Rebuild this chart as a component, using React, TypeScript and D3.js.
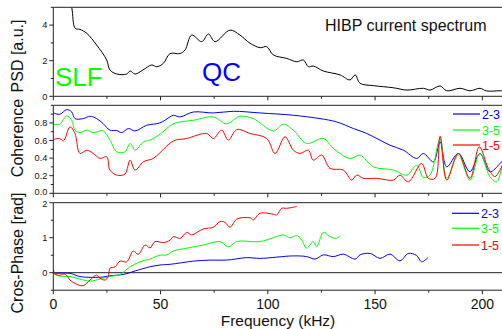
import React from "react";
import * as d3 from "d3";

// ---------- data ----------
const psdFreq = [0, 3, 6, 8.6, 10.2, 12.4, 15.6, 20.2, 24.9, 26.4, 29.6, 34.2, 35.8, 38.1, 41.8, 45.9, 48.2, 51.3, 54.4, 59, 61.4, 64.5, 69.2, 72.3, 75.4, 82.4, 87, 91.7, 96.4, 99.5, 102.6, 108.8, 113.5, 116.6, 118.9, 121.2, 125.9, 133.7, 138.3, 140.7, 143, 149.2, 158.5, 164.8, 172.5, 175.6, 180.3, 183.4, 189.6, 194.3, 198.9, 202, 208.3, 212];
const psdValue = [11, 8.5, 6.5, 5.0, 3.82, 3.76, 3.54, 2.88, 2.04, 1.48, 1.25, 1.25, 1.42, 1.25, 1.48, 1.76, 1.66, 1.85, 2.4, 2.4, 2.6, 3.44, 3.07, 3.5, 3.07, 3.72, 3.44, 2.98, 2.73, 2.79, 2.32, 2.13, 1.94, 2.04, 1.66, 1.7, 1.42, 1.2, 0.92, 1.2, 0.73, 0.6, 0.48, 0.35, 0.45, 0.35, 0.58, 0.31, 0.45, 0.31, 0.45, 0.3, 0.31, 0.3];

const cohBlueF = [0, 3.1, 6.2, 8.6, 10.1, 14, 17.1, 20.2, 23.3, 26.4, 29.6, 31.9, 35, 38.1, 43.5, 49.7, 54.4, 56, 59.1, 65.3, 74.6, 83.9, 96.4, 111.9, 124.3, 132.1, 139.9, 146.1, 152.3, 156.9, 163.2, 169.4, 172.5, 177.2, 180.3, 183.4, 188.8, 194.2, 198.9, 203.5, 208.3, 212];
const cohBlueV = [0.913, 0.898, 0.951, 0.924, 0.849, 0.849, 0.875, 0.849, 0.79, 0.717, 0.713, 0.69, 0.736, 0.709, 0.773, 0.8, 0.868, 0.887, 0.868, 0.924, 0.913, 0.932, 0.913, 0.887, 0.849, 0.811, 0.736, 0.68, 0.604, 0.547, 0.49, 0.396, 0.453, 0.358, 0.584, 0.301, 0.453, 0.245, 0.453, 0.245, 0.34, 0.45];

const cohGreenF = [0, 3, 6.2, 8.6, 10.1, 12.4, 15.6, 18.6, 23.3, 26.4, 29.6, 33.4, 35.8, 38.1, 42, 45.1, 49.7, 56, 65.3, 74.6, 80.8, 87, 93.2, 102.6, 107.2, 111.9, 118.1, 125.9, 130.5, 138.3, 143, 149.2, 158.5, 164.8, 169.4, 172.5, 175.6, 180.3, 183.4, 188.8, 194.2, 198.9, 203.5, 206.7, 209.7];
const cohGreenV = [0.785, 0.785, 0.879, 0.83, 0.717, 0.69, 0.717, 0.69, 0.709, 0.604, 0.471, 0.471, 0.566, 0.49, 0.584, 0.604, 0.67, 0.79, 0.83, 0.868, 0.79, 0.875, 0.849, 0.709, 0.785, 0.717, 0.566, 0.623, 0.51, 0.396, 0.434, 0.301, 0.264, 0.207, 0.32, 0.18, 0.207, 0.623, 0.17, 0.434, 0.15, 0.453, 0.19, 0.13, 0.377];

const cohRedF = [0, 3, 4.7, 7.8, 10.1, 12.4, 15.6, 18.6, 21.8, 24.9, 26.4, 29.6, 33.4, 35.8, 38.1, 42, 46.6, 49.7, 56, 62.2, 71.5, 74.6, 78.5, 81.6, 85.5, 91.7, 99.5, 103.4, 108, 111.9, 115, 118.9, 121.2, 125.1, 129, 135.2, 139.1, 141.4, 144.5, 150.8, 158.5, 161.6, 165.5, 171.7, 174.8, 178, 180.3, 183.4, 188.8, 194.2, 198.6, 202.8, 205.9, 209.7];
const cohRedV = [0.611, 0.623, 0.596, 0.755, 0.68, 0.453, 0.49, 0.453, 0.396, 0.415, 0.264, 0.207, 0.219, 0.377, 0.264, 0.358, 0.396, 0.46, 0.596, 0.623, 0.68, 0.623, 0.717, 0.604, 0.725, 0.68, 0.623, 0.453, 0.642, 0.49, 0.453, 0.49, 0.377, 0.434, 0.283, 0.264, 0.15, 0.207, 0.17, 0.17, 0.15, 0.207, 0.13, 0.34, 0.17, 0.17, 0.649, 0.15, 0.453, 0.17, 0.528, 0.283, 0.19, 0.34];

const phRedF = [0, 0.8, 3.1, 5.5, 7.8, 10.9, 14, 17.1, 20.2, 21.8, 24.1, 25.6, 26.4, 28.8, 31.1, 34.2, 37.3, 39.6, 42.8, 45.1, 47.4, 51.3, 54.4, 56, 59.1, 62.2, 64.5, 69.9, 74.6, 77.7, 80, 82.4, 85.5, 91.7, 93.2, 96.4, 102.6, 104.1, 106.5, 108.8, 113.5];
const phRedV = [0.106, -0.04, -0.07, -0.04, -0.21, -0.33, -0.37, -0.21, -0.07, -0.16, -0.21, -0.11, 0.125, 0.17, 0.33, 0.31, 0.62, 0.525, 0.79, 0.71, 0.89, 0.86, 0.93, 1.03, 0.98, 1.15, 1.08, 1.25, 1.3, 1.46, 1.44, 1.3, 1.53, 1.57, 1.51, 1.7, 1.67, 1.65, 1.84, 1.84, 1.89];

const phGreenF = [0, 3.1, 7.8, 12.4, 17.1, 21.8, 26.4, 31.1, 35.8, 40.4, 45.1, 49.7, 52.9, 56, 62.2, 69.9, 77.7, 81.6, 85.5, 96.4, 102.6, 107.2, 110.3, 113.5, 115.8, 118.1, 121.2, 122.8, 125.9, 129, 132.1, 133.7];
const phGreenV = [-0.02, -0.1, -0.11, -0.18, -0.24, -0.18, -0.11, -0.05, 0.17, 0.31, 0.39, 0.5, 0.51, 0.62, 0.7, 0.79, 0.89, 0.74, 0.89, 0.89, 1.0, 1.08, 1.0, 1.06, 0.93, 0.7, 0.89, 0.74, 1.15, 1.03, 0.98, 1.06];

const phBlueF = [0, 7.8, 12.4, 21.8, 26.4, 33.4, 38.1, 45.1, 49.7, 54.4, 65.3, 73, 80.8, 90.1, 96.4, 111.9, 118.1, 122, 125.9, 130.5, 135.2, 140.7, 143, 147.7, 152.3, 156.9, 161.6, 165.5, 169.4, 171.7, 174.8];
const phBlueV = [-0.02, -0.02, -0.11, -0.13, -0.09, -0.04, 0.05, 0.17, 0.22, 0.24, 0.33, 0.36, 0.36, 0.43, 0.41, 0.48, 0.46, 0.39, 0.51, 0.46, 0.53, 0.39, 0.51, 0.55, 0.41, 0.53, 0.34, 0.55, 0.49, 0.31, 0.44];

const xTicksMajor = [0, 50, 100, 150, 200];
const xTicksMinor = [25, 75, 125, 175];
const psdTicks = [0, 2, 4];
const psdMinor = [1, 3, 5];
const cohTicks = [0, 0.2, 0.4, 0.6, 0.8];
const cohMinor = [0.1, 0.3, 0.5, 0.7, 0.9, 1.0];
const phTicks = [0, 1, 2];
const phMinor = [-0.5, 0.5, 1.5];
const legendLabels = ["2-3", "3-5", "1-5"];

const BLUE = "#0000ff";
const GREEN = "#00ff00";
const RED = "#ff0000";
const AXIS = "#222";
const FONT = "'Liberation Sans', Arial, sans-serif";

const W = 502;
const H = 329;

const x = d3.scaleLinear().domain([0, 210]).range([53.3, 503.8]);
const yPsd = d3.scaleLinear().domain([0, 5]).range([96.3, 7.3]);
const yCoh = d3.scaleLinear().domain([0, 1]).range([193.3, 105.3]);
const yPh = d3.scaleLinear().domain([-0.5, 2]).range([290.2, 202.7]);

function mkPath(fs: number[], vs: number[], y: d3.ScaleLinear<number, number>) {
  const pts: [number, number][] = fs.map((f, i) => [f, vs[i]]);
  return d3
    .line<[number, number]>()
    .x((d) => x(d[0]))
    .y((d) => y(d[1]))
    .curve(d3.curveCatmullRom.alpha(0.5))(pts) || "";
}

type PanelProps = {
  id: string;
  y: d3.ScaleLinear<number, number>;
  major: number[];
  minor: number[];
  fmt: (v: number) => string;
  nudge?: (v: number) => number;
  children?: React.ReactNode;
};

function Panel({ id, y, major, minor, fmt, nudge, children }: PanelProps) {
  const [y0, y1] = y.range();
  const x0 = x.range()[0];
  const x1 = x.range()[1];
  return (
    <g>
      <defs>
        <clipPath id={id}>
          <rect x={x0} y={y1} width={x1 - x0} height={y0 - y1} />
        </clipPath>
      </defs>
      <g clipPath={`url(#${id})`}>{children}</g>
      <line x1={x0} x2={x1} y1={y1} y2={y1} stroke={AXIS} strokeWidth={1} />
      <line x1={x0} x2={x1} y1={y0} y2={y0} stroke={AXIS} strokeWidth={1} />
      <line x1={x0} x2={x0} y1={y1} y2={y0} stroke={AXIS} strokeWidth={1} />
      {xTicksMajor.map((t) => (
        <line key={"xM" + t} x1={x(t)} x2={x(t)} y1={y0} y2={y0 + 4} stroke={AXIS} />
      ))}
      {xTicksMinor.map((t) => (
        <line key={"xm" + t} x1={x(t)} x2={x(t)} y1={y0} y2={y0 + 2.5} stroke={AXIS} />
      ))}
      {major.map((t) => (
        <g key={"yM" + t}>
          <line x1={x0 - 4} x2={x0} y1={y(t)} y2={y(t)} stroke={AXIS} />
          <text
            x={x0 - 6}
            y={y(t) + 3.2 + (nudge ? nudge(t) : 0)}
            fontSize={9.2}
            textAnchor="end"
            fontFamily={FONT}
            fill="#111"
          >
            {fmt(t)}
          </text>
        </g>
      ))}
      {minor.map((t) => (
        <line key={"ym" + t} x1={x0 - 2.5} x2={x0} y1={y(t)} y2={y(t)} stroke={AXIS} />
      ))}
    </g>
  );
}

function Legend({ ys, x1, x2 }: { ys: number[]; x1: number; x2: number }) {
  const colors = [BLUE, GREEN, RED];
  return (
    <g>
      {legendLabels.map((l, i) => (
        <g key={l}>
          <line x1={x1} x2={x2} y1={ys[i]} y2={ys[i]} stroke={colors[i]} strokeWidth={1.2} />
          <text x={x2 + 2} y={ys[i] + 4.5} fontSize={12.5} fontFamily={FONT} fill={colors[i]}>
            {l}
          </text>
        </g>
      ))}
    </g>
  );
}

export default function App() {
  return (
    <svg width={W} height={H} style={{ position: "absolute", left: 0, top: 0, background: "#fff" }}>
      <rect width={W} height={H} fill="#fff" />
      <Panel id="c1" y={yPsd} major={psdTicks} minor={psdMinor} fmt={(v) => String(v)}>
        <path d={mkPath(psdFreq, psdValue, yPsd)} fill="none" stroke="#000" strokeWidth={1} />
      </Panel>
      <Panel
        id="c2"
        y={yCoh}
        major={cohTicks}
        minor={cohMinor}
        fmt={(v) => v.toFixed(1)}
        nudge={(v) => (v === 0 ? -1.2 : 0)}
      >
        <path d={mkPath(cohBlueF, cohBlueV, yCoh)} fill="none" stroke={BLUE} strokeWidth={1} />
        <path d={mkPath(cohGreenF, cohGreenV, yCoh)} fill="none" stroke={GREEN} strokeWidth={1} />
        <path d={mkPath(cohRedF, cohRedV, yCoh)} fill="none" stroke={RED} strokeWidth={1} />
      </Panel>
      <Panel
        id="c3"
        y={yPh}
        major={phTicks}
        minor={phMinor}
        fmt={(v) => String(v)}
        nudge={(v) => (v === 2 ? 0.8 : 0)}
      >
        <line x1={x(0)} x2={x(210)} y1={yPh(0)} y2={yPh(0)} stroke={AXIS} strokeWidth={1} />
        <path d={mkPath(phBlueF, phBlueV, yPh)} fill="none" stroke={BLUE} strokeWidth={1} />
        <path d={mkPath(phGreenF, phGreenV, yPh)} fill="none" stroke={GREEN} strokeWidth={1} />
        <path d={mkPath(phRedF, phRedV, yPh)} fill="none" stroke={RED} strokeWidth={1} />
      </Panel>

      <Legend ys={[114, 130, 145]} x1={453} x2={480} />
      <Legend ys={[213.3, 228.3, 245]} x1={452} x2={479} />

      {xTicksMajor.map((t) => (
        <text key={"xl" + t} x={x(t)} y={308.5} fontSize={14} textAnchor="middle" fontFamily={FONT} fill="#111">
          {t}
        </text>
      ))}
      <text x={278} y={325.5} fontSize={15.5} textAnchor="middle" fontFamily={FONT} fill="#111">
        Frequency (kHz)
      </text>
      <text transform="translate(23,56) rotate(-90)" fontSize={16} textAnchor="middle" fontFamily={FONT} fill="#111">
        PSD [a.u.]
      </text>
      <text transform="translate(23,138) rotate(-90)" fontSize={16} textAnchor="middle" fontFamily={FONT} fill="#111">
        Coherence
      </text>
      <text transform="translate(23,253) rotate(-90)" fontSize={16} textAnchor="middle" fontFamily={FONT} fill="#111">
        Cros-Phase [rad]
      </text>

      <text x={325} y={31} fontSize={16} fontFamily={FONT} fill="#111">
        HIBP current spectrum
      </text>
      <text x={55} y={86} fontSize={26} fontFamily={FONT} fill={GREEN}>
        SLF
      </text>
      <text x={202} y={80.5} fontSize={26} fontFamily={FONT} fill={BLUE}>
        QC
      </text>
    </svg>
  );
}
